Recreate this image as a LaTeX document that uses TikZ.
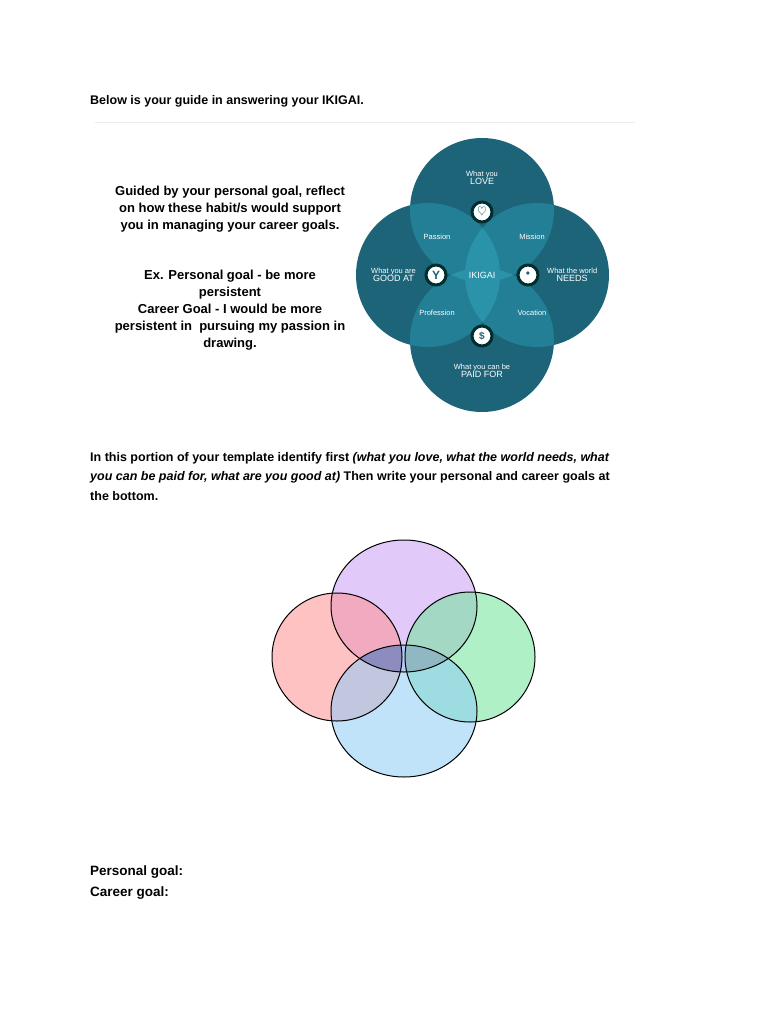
\documentclass[tikz,border=0pt]{standalone}
\usepackage{fontspec}
\setmainfont{Liberation Sans}
\begin{document}
\begin{tikzpicture}[x=1pt,y=-1pt,
  txt/.style={font=\fontsize{12.5}{15}\selectfont\bfseries,anchor=west,inner sep=0},
  ctxt/.style={font=\fontsize{13}{17}\selectfont\bfseries,align=center,inner sep=0},
  wt/.style={text=white,inner sep=0,align=center,font=\fontsize{7.5}{9}\selectfont},
  wtb/.style={text=white,inner sep=0,align=center,font=\fontsize{7.5}{10}\selectfont},
  icon/.style={circle,fill=white,draw=black!40!teal!60!black,line width=3pt,minimum size=20pt,inner sep=0},
  ven/.style={draw=black,line width=1pt,fill opacity=0.55}]
\useasboundingbox (0,0) rectangle (768,1024);
\fill[white] (0,0) rectangle (768,1024);
\node[txt] (h1) at (90,101) {Below is your guide in answering your IKIGAI.};
\draw[black!8] (95,122) -- (635,122);
\node[ctxt] (g) at (230,209) {Guided by your personal goal, reflect\\on how these habit/s would support\\you in managing your career goals.};
\node[ctxt] (ex) at (230,310) {Ex. Personal goal - be more\\persistent\\Career Goal - I would be more\\persistent in \ pursuing my passion in\\drawing.};
% ikigai
\definecolor{tdark}{HTML}{1D6479}
\definecolor{tmid}{HTML}{227F96}
\definecolor{tlight}{HTML}{2A93A9}
\coordinate (cT) at (482,210);
\coordinate (cL) at (428,275);
\coordinate (cR) at (537,275);
\coordinate (cB) at (482,340);
\foreach \c in {cT,cL,cR,cB} \fill[tdark] (\c) circle (72);
\begin{scope}\clip (cT) circle (72); \fill[tmid] (cL) circle (72); \fill[tmid] (cR) circle (72);\end{scope}
\begin{scope}\clip (cB) circle (72); \fill[tmid] (cL) circle (72); \fill[tmid] (cR) circle (72);\end{scope}
\begin{scope}\clip (cT) circle (72); \fill[tlight] (cB) circle (72);\end{scope}
\begin{scope}\clip (cL) circle (72); \fill[tlight] (cR) circle (72);\end{scope}
\node[wt] (love) at (482,178) {What you\\[-1pt]{\fontsize{9}{10}\selectfont LOVE}};
\node[icon] (i1) at (482,212) {\textcolor{tdark}{\large$\heartsuit$}};
\node[wt] (pas) at (437,237) {Passion};
\node[wt] (mis) at (532,237) {Mission};
\node[wt] (iki) at (482,275) {\fontsize{9}{10}\selectfont IKIGAI};
\node[icon] (i2) at (436,275) {\textcolor{tdark}{\bfseries\large Y}};
\node[icon] (i3) at (528,275) {\textcolor{tdark}{\large\textbullet}};
\node[wt,anchor=east] (good) at (416,275) {What you are\\[-1pt]{\fontsize{9}{10}\selectfont GOOD AT}};
\node[wt,anchor=west] (need) at (547,275) {What the world\\[-1pt]{\fontsize{9}{10}\selectfont NEEDS}};
\node[wt] (pro) at 	(437,313) {Profession};
\node[wt] (voc) at (532,313) {Vocation};
\node[icon] (i4) at (482,336) {\textcolor{tdark}{\bfseries\$}};
\node[wt] (paid) at (482,371) {What you can be\\[-1pt]{\fontsize{9}{10}\selectfont PAID FOR}};
% instructions
\node[txt] (ins1) at (90,458) {In this portion of your template identify first \textit{(what you love, what the world needs, what}};
\node[txt] (ins2) at (90,477) {\textit{you can be paid for, what are you good at)} Then write your personal and career goals at};
\node[txt] (ins3) at (90,496) {the bottom.};
% venn
\definecolor{vp}{HTML}{C9A0F5}
\definecolor{vr}{HTML}{FF9090}
\definecolor{vg}{HTML}{70E49A}
\definecolor{vb}{HTML}{8FCCF7}
\fill[vp,opacity=0.55] (404,606) ellipse (73 and 66);
\fill[vr,opacity=0.55] (337,657) ellipse (65 and 64);
\fill[vg,opacity=0.55] (470,657) ellipse (65 and 65);
\fill[vb,opacity=0.55] (404,711) ellipse (73 and 66);
\begin{scope}\clip (404,606) ellipse (73 and 66);\clip (404,711) ellipse (73 and 66);
\fill[black!60!blue,opacity=0.25] (337,657) ellipse (65 and 64);\fill[black!50,opacity=0.3] (470,657) ellipse (65 and 65);\end{scope}
\draw[line width=1pt] (404,606) ellipse (73 and 66);
\draw[line width=1pt] (337,657) ellipse (65 and 64);
\draw[line width=1pt] (470,657) ellipse (65 and 65);
\draw[line width=1pt] (404,711) ellipse (73 and 66);
\node[txt] (pg) at (90,872) {\fontsize{13.5}{16}\selectfont Personal goal:};
\node[txt] (cg) at (90,893) {\fontsize{13.5}{16}\selectfont Career goal:};
\end{tikzpicture}
\end{document}
